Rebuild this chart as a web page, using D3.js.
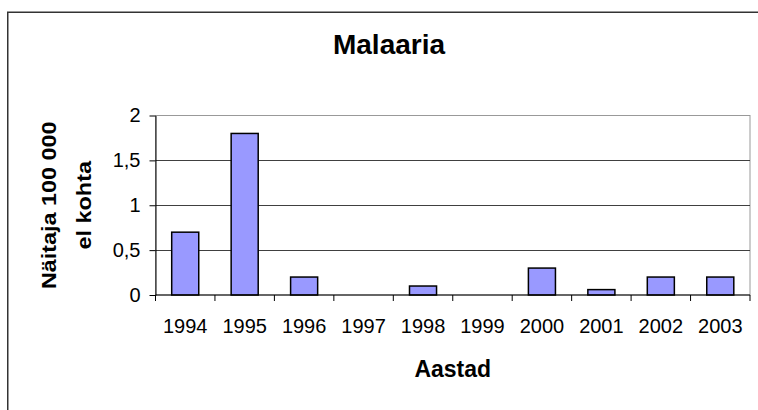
<!DOCTYPE html>
<html>
<head>
<meta charset="utf-8">
<script src="https://cdn.jsdelivr.net/npm/d3@7"></script>
<style>
  body { margin: 0; background: #fff; }
  svg { display: block; font-family: "Liberation Sans", Arial, sans-serif; }
</style>
</head>
<body>
<div id="chart"></div>
<script>
// values (per 100 000)
const years = ["1994", "1995", "1996", "1997", "1998", "1999", "2000", "2001", "2002", "2003"];
const rates = [0.7, 1.8, 0.2, 0, 0.1, 0, 0.3, 0.06, 0.2, 0.2];
const yTicks = [0, 0.5, 1, 1.5, 2];
const chartTitle = "Malaaria",
      xTitle = "Aastad",
      yTitleLines = ["Näitaja 100 000", "el kohta"];

const width = 758, height = 410,
      plot = {left: 155.5, right: 750, top: 115.5, bottom: 295},
      barColor = "#9999ff";

const data = years.map((y, i) => ({year: y, value: rates[i]}));

const svg = d3.select("#chart").append("svg")
    .attr("width", width)
    .attr("height", height);

// outer chart frame (runs off the right and bottom edges)
svg.append("rect")
    .attr("x", 7.75).attr("y", 12.25)
    .attr("width", 820).attr("height", 450)
    .attr("fill", "none")
    .attr("stroke", "#333")
    .attr("stroke-width", 1.5);

const x = d3.scaleBand()
    .domain(years)
    .range([plot.left, plot.right]);

const y = d3.scaleLinear()
    .domain([0, 2])
    .range([plot.bottom, plot.top]);

const barW = x.bandwidth() * 0.455;

// plot area border
svg.append("rect")
    .attr("x", plot.left).attr("y", plot.top)
    .attr("width", plot.right - plot.left)
    .attr("height", plot.bottom - plot.top)
    .attr("fill", "#fff")
    .attr("stroke", "#999")
    .attr("stroke-width", 1);

// gridlines
svg.selectAll(".grid")
    .data(yTicks.filter(d => d > 0 && d < 2))
    .enter().append("line")
    .attr("class", "grid")
    .attr("x1", plot.left).attr("x2", plot.right)
    .attr("y1", d => Math.round(y(d)) + 0.5)
    .attr("y2", d => Math.round(y(d)) + 0.5)
    .attr("stroke", "#404040")
    .attr("stroke-width", 1);

// bars (zero values draw nothing, as in the original)
svg.selectAll(".bar")
    .data(data.filter(d => d.value > 0))
    .enter().append("rect")
    .attr("class", "bar")
    .attr("x", d => x(d.year) + (x.bandwidth() - barW) / 2)
    .attr("y", d => y(d.value))
    .attr("width", barW)
    .attr("height", d => y(0) - y(d.value))
    .attr("fill", barColor)
    .attr("stroke", "#000")
    .attr("stroke-width", 1.5);

// y axis
const yAxis = svg.append("g")
    .attr("transform", "translate(" + plot.left + ",0)")
    .call(d3.axisLeft(y)
        .tickValues(yTicks)
        .tickSize(6)
        .tickSizeOuter(0)
        .tickPadding(9)
        .tickFormat(d => String(d).replace(".", ",")));
yAxis.selectAll("text")
    .attr("font-size", 20)
    .attr("font-family", "Liberation Sans, Arial, sans-serif")
    .attr("fill", "#000");
yAxis.selectAll("line, path").attr("stroke", "#000");

// x axis: line, ticks between categories, labels under each category
const xAxis = svg.append("g");
xAxis.append("line")
    .attr("x1", plot.left).attr("x2", plot.right)
    .attr("y1", plot.bottom).attr("y2", plot.bottom)
    .attr("stroke", "#000");
xAxis.selectAll(".xtick")
    .data(years.map(d => x(d)).concat([plot.right]))
    .enter().append("line")
    .attr("class", "xtick")
    .attr("x1", d => d).attr("x2", d => d)
    .attr("y1", plot.bottom).attr("y2", plot.bottom + 6)
    .attr("stroke", "#000");
xAxis.selectAll(".xLabels")
    .data(years)
    .enter().append("text")
    .attr("class", "xLabels")
    .text(d => d)
    .attr("x", d => x(d) + x.bandwidth() / 2)
    .attr("y", 333)
    .attr("text-anchor", "middle")
    .attr("font-size", 20);

// titles
svg.append("text")
    .text(chartTitle)
    .attr("x", 389).attr("y", 54)
    .attr("text-anchor", "middle")
    .attr("font-size", 28)
    .attr("font-weight", "bold");

svg.append("text")
    .text(xTitle)
    .attr("x", (plot.left + plot.right) / 2).attr("y", 377)
    .attr("text-anchor", "middle")
    .attr("font-size", 23)
    .attr("font-weight", "bold");

const yTitleX = [56, 90.5];
svg.selectAll(".yTitle")
    .data(yTitleLines)
    .enter().append("text")
    .attr("class", "yTitle")
    .text(d => d)
    .attr("transform", (d, i) => "translate(" + yTitleX[i] + "," + (plot.top + plot.bottom) / 2 + ") rotate(-90) scale(1.2,1)")
    .attr("text-anchor", "middle")
    .attr("font-size", 19.5)
    .attr("font-weight", "bold");
</script>
</body>
</html>
